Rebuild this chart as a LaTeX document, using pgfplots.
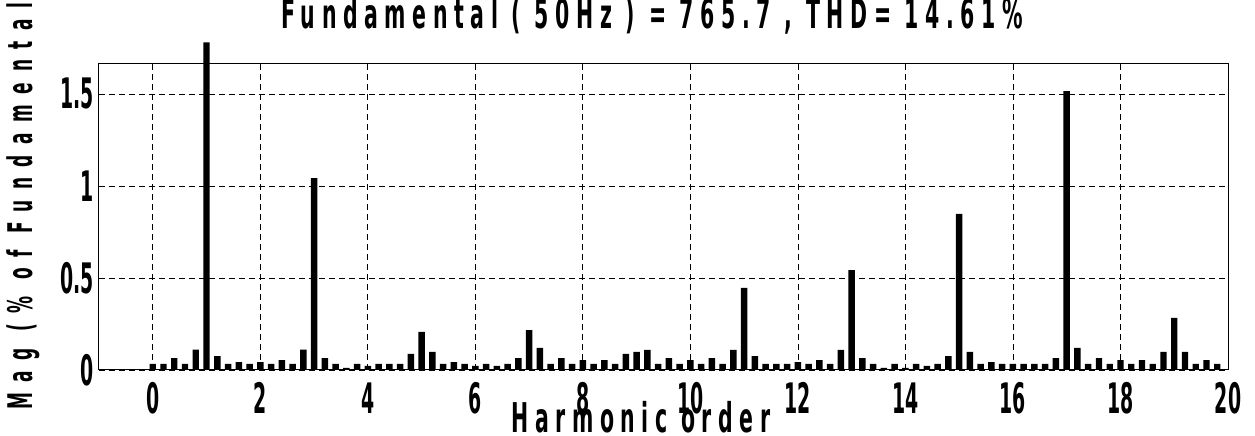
\documentclass[border=0pt]{standalone}
\usepackage{fontspec}
\setmainfont{DejaVu Sans}[FakeStretch=0.55]
\newfontfamily\tickf{DejaVu Sans}[FakeStretch=0.45]
\newfontfamily\titlef{DejaVu Sans}[FakeStretch=0.5, LetterSpace=16]
\newfontfamily\ylabf{DejaVu Sans}[FakeStretch=0.5, LetterSpace=31]
\usepackage{pgfplots}
\pgfplotsset{compat=1.18}
\usepackage{pgfplotstable}
\usetikzlibrary{calc}

\pgfplotstableread{
x y
0.0 0.033
0.2 0.033
0.4 0.065
0.6 0.033
0.8 0.11
1.0 1.78
1.2 0.076
1.4 0.033
1.6 0.043
1.8 0.033
2.0 0.043
2.2 0.033
2.4 0.054
2.6 0.033
2.8 0.11
3.0 1.043
3.2 0.065
3.4 0.033
3.6 0.011
3.8 0.033
4.0 0.022
4.2 0.033
4.4 0.033
4.6 0.033
4.8 0.087
5.0 0.207
5.2 0.098
5.4 0.033
5.6 0.043
5.8 0.033
6.0 0.022
6.2 0.033
6.4 0.022
6.6 0.033
6.8 0.065
7.0 0.217
7.2 0.12
7.4 0.033
7.6 0.065
7.8 0.033
8.0 0.054
8.2 0.033
8.4 0.054
8.6 0.033
8.8 0.087
9.0 0.098
9.2 0.109
9.4 0.033
9.6 0.065
9.8 0.033
10.0 0.054
10.2 0.033
10.4 0.065
10.6 0.033
10.8 0.109
11.0 0.446
11.2 0.076
11.4 0.033
11.6 0.033
11.8 0.033
12.0 0.043
12.2 0.033
12.4 0.054
12.6 0.033
12.8 0.109
13.0 0.543
13.2 0.065
13.4 0.033
13.6 0.011
13.8 0.033
14.0 0.011
14.2 0.033
14.4 0.022
14.6 0.033
14.8 0.076
15.0 0.848
15.2 0.098
15.4 0.033
15.6 0.043
15.8 0.033
16.0 0.033
16.2 0.033
16.4 0.033
16.6 0.033
16.8 0.065
17.0 1.516
17.2 0.12
17.4 0.033
17.6 0.065
17.8 0.033
18.0 0.054
18.2 0.033
18.4 0.054
18.6 0.033
18.8 0.098
19.0 0.283
19.2 0.098
19.4 0.033
19.6 0.054
19.8 0.033
}\harm

\begin{document}
\begin{tikzpicture}
\begin{axis}[
  scale only axis,
  width=564.5pt, height=153pt,
  xmin=-1, xmax=20, ymin=0, ymax=1.663,
  clip=false,
  axis line style={black, line width=0.5pt},
  xtick={0,2,...,20},
  ytick={0,0.5,1,1.5},
  yticklabels={0,0.5,1,1.5},
  /pgf/number format/assume math mode=true,
  tick label style={font=\tickf\fontsize{21}{22}\selectfont\bfseries},
  xticklabel style={anchor=center, yshift=-14pt, inner sep=0pt},
  yticklabel style={anchor=east, xshift=-2.5pt, inner sep=0pt},
  major tick length=0pt,
  grid=major,
  major grid style={black, dash pattern=on 3pt off 2pt, line width=0.4pt},
  title={Fundamental ( 50Hz ) = 765.7 , THD= 14.61\%},
  title style={at={(axis description cs:0.49,1)}, anchor=center, yshift=18pt,
    font=\titlef\fontsize{20.5}{21}\selectfont\bfseries},
  xlabel={Harmonic order},
  xlabel style={at={(axis description cs:0.48,0)}, anchor=center, yshift=-23.5pt,
    font=\titlef\fontsize{20.5}{21}\selectfont\bfseries},
]
\addplot[ybar, bar width=0.12, fill=black, draw=none] table[x=x, y=y] {\harm};
\coordinate (bl) at (rel axis cs:0,0);
\coordinate (tr) at (rel axis cs:1,1);
\end{axis}
\node[rotate=90, anchor=west, inner sep=0pt, font=\ylabf\fontsize{17}{18}\selectfont\bfseries]
  at ($(bl)+(-38pt,-20pt)$) {Mag (\% of Fundamental)};
\pgfresetboundingbox
\path[use as bounding box] ($(bl)+(-49.5pt,-33pt)$) rectangle ($(tr)+(13.5pt,32pt)$);
\end{tikzpicture}
\end{document}
